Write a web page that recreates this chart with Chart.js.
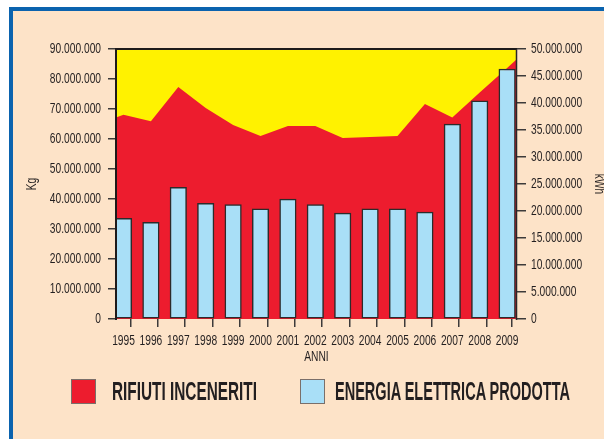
<!DOCTYPE html>
<html><head><meta charset="utf-8">
<script src="https://cdn.jsdelivr.net/npm/chart.js@4"></script>
<style>
html,body{margin:0;padding:0;background:#fff;}
#wrap{position:relative;width:604px;height:439px;overflow:hidden;}
#frame{position:absolute;left:9px;top:7px;width:600px;height:440px;background:#FDE3C8;border-top:4px solid #0B63AE;border-left:4px solid #0B63AE;}
canvas{position:absolute;left:0;top:0;}
.box{position:absolute;top:379px;width:23px;height:23px;border:1px solid #7a6f6a;}
.lt{position:absolute;top:378px;font-family:'Liberation Sans','Arial',sans-serif;font-weight:bold;font-size:26px;line-height:26px;color:#231f20;white-space:nowrap;transform-origin:0 50%;display:inline-block;}
</style></head>
<body>
<div id="wrap">
<div id="frame"></div>
<canvas id="c" width="604" height="439"></canvas>
<div class="box" style="left:71px;background:#ED1C2E;"></div>
<span class="lt" id="l1" style="left:112px;" data-w="145">RIFIUTI INCENERITI</span>
<div class="box" style="left:300px;background:#A9DFF7;"></div>
<span class="lt" id="l2" style="left:335px;" data-w="235">ENERGIA ELETTRICA PRODOTTA</span>
</div>
<script>
const years = ['1995','1996','1997','1998','1999','2000','2001','2002','2003','2004','2005','2006','2007','2008','2009'];
// Rifiuti inceneriti (Kg) - red area, left axis
const rifiutiKg = [68100000, 65900000, 77300000, 70300000, 64700000, 61000000, 64300000, 64300000, 60300000, 60700000, 61000000, 71700000, 67200000, 75500000, 83700000];
// values where the red area meets the left and right edges of the plot
const rifiutiEdgeKg = [67200000, 86700000];
// Energia elettrica prodotta (kWh) - bars, right axis
const energiaKWh = [18650000, 17900000, 24400000, 21400000, 21200000, 20400000, 22200000, 21200000, 19600000, 20400000, 20400000, 19800000, 36100000, 40400000, 46300000];
const kgMax = 90000000, kgStep = 10000000;
const kwhMax = 50000000, kwhStep = 5000000;

const F = "'Liberation Sans','Arial',sans-serif";
const TXT = '#231f20';
const SQUEEZE = 0.73;
const xMin = -0.274, xMax = 14.361;
const fmt = v => String(Math.round(v)).replace(/\B(?=(\d{3})+(?!\d))/g, '.');

const areaData = [{x:xMin, y:rifiutiEdgeKg[0]}]
  .concat(years.map((_, i) => ({x:i, y:rifiutiKg[i]})))
  .concat([{x:xMax, y:rifiutiEdgeKg[1]}]);
const barData = years.map((_, i) => ({x:i, y:energiaKWh[i]}));

// condensed text: draw every label horizontally squeezed around its anchor
const condensePlugin = {
  id:'condense',
  beforeInit(chart){
    const ctx = chart.ctx;
    const orig = ctx.fillText.bind(ctx);
    ctx.fillText = function(t, x, y, mw){
      ctx.save();
      ctx.translate(x, y);
      ctx.scale(SQUEEZE, 1);
      if (mw !== undefined) orig(t, 0, 0, mw / SQUEEZE); else orig(t, 0, 0);
      ctx.restore();
    };
  }
};

const framePlugin = {
  id:'frame',
  beforeDraw(chart){
    const {ctx, chartArea:a} = chart;
    ctx.save(); ctx.fillStyle = '#FFF200';
    ctx.fillRect(a.left, a.top, a.right - a.left, a.bottom - a.top);
    ctx.restore();
  },
  afterDatasetsDraw(chart){
    const {ctx, chartArea:a} = chart;
    ctx.save();
    ctx.strokeStyle = '#1e1a1a'; ctx.lineWidth = 2;
    ctx.beginPath();
    ctx.moveTo(a.left, a.bottom + 1); ctx.lineTo(a.left, a.top); ctx.lineTo(a.right, a.top);
    ctx.stroke();
    ctx.lineWidth = 1.5; ctx.strokeStyle = '#2a2626';
    ctx.beginPath(); ctx.moveTo(a.right - 0.5, a.top); ctx.lineTo(a.right - 0.5, a.bottom + 1); ctx.stroke();
    ctx.restore();
  }
};

new Chart(document.getElementById('c'), {
  type:'bar',
  data:{
    datasets:[
      {type:'bar', label:'ENERGIA ELETTRICA PRODOTTA', data:barData, xAxisID:'x', yAxisID:'y1',
       backgroundColor:'#A9DFF7', borderColor:'#2c2b2b', borderWidth:1.5, borderSkipped:false,
       barThickness:16.5, order:0},
      {type:'line', label:'RIFIUTI INCENERITI', data:areaData, xAxisID:'x', yAxisID:'y',
       backgroundColor:'#ED1C2E', borderWidth:0, borderColor:'rgba(0,0,0,0)', pointRadius:0,
       fill:'origin', tension:0, order:1}
    ]
  },
  options:{
    responsive:false, animation:false,
    layout:{padding:{top:49, left:0, right:0, bottom:0}},
    plugins:{legend:{display:false}, tooltip:{enabled:false}},
    scales:{
      x:{
        type:'linear', min:xMin, max:xMax, offset:false, position:'bottom',
        afterBuildTicks: s => {
          const t = [{value:xMin}];
          years.forEach((_, i) => { t.push({value:i}); if (i < years.length - 1) t.push({value:i + 0.5}); });
          t.push({value:xMax});
          s.ticks = t;
        },
        ticks:{autoSkip:false, maxRotation:0, minRotation:0, padding:6, color:TXT, font:{family:F, size:14},
          callback:(v) => (Number.isInteger(v) && v >= 0 && v < years.length) ? years[v] : ''},
        grid:{drawOnChartArea:false, tickLength:8, lineWidth:1.5,
          color: c => (c.tick && Number.isInteger(c.tick.value)) ? 'rgba(0,0,0,0)' : '#3d3a3a',
          tickColor: c => (c.tick && Number.isInteger(c.tick.value)) ? 'rgba(0,0,0,0)' : '#3d3a3a'},
        border:{display:false},
        title:{display:true, text:'ANNI', color:TXT, font:{family:F, size:14}, padding:{top:0, bottom:73}},
        afterFit: s => { s.height = 120; }
      },
      y:{
        position:'left', min:0, max:kgMax,
        ticks:{stepSize:kgStep, padding:7, color:TXT, font:{family:F, size:14}, callback: v => fmt(v)},
        grid:{drawOnChartArea:false, tickLength:8, lineWidth:1.5, color:'#3d3a3a'},
        border:{display:false},
        title:{display:true, text:'Kg', color:TXT, font:{family:F, size:14}, padding:{top:24, bottom:0}},
        afterFit: s => { s.width = 116; }
      },
      y1:{
        position:'right', min:0, max:kwhMax,
        ticks:{stepSize:kwhStep, padding:5, color:TXT, font:{family:F, size:14}, callback: v => fmt(v)},
        grid:{drawOnChartArea:false, tickLength:9, lineWidth:1.5, color:'#3d3a3a'},
        border:{display:false},
        title:{display:true, text:'kWh', color:TXT, font:{family:F, size:14}, padding:{top:-3, bottom:0}},
        afterFit: s => { s.width = 87; }
      }
    }
  },
  plugins:[condensePlugin, framePlugin]
});

function fitLegend(){
  document.querySelectorAll('.lt').forEach(el => {
    el.style.transform = 'none';
    const w = el.getBoundingClientRect().width;
    const target = parseFloat(el.dataset.w);
    if (w > 0) el.style.transform = 'scaleX(' + (target / w) + ')';
  });
}
fitLegend();
if (document.fonts && document.fonts.ready) document.fonts.ready.then(fitLegend);
</script>
</body></html>
